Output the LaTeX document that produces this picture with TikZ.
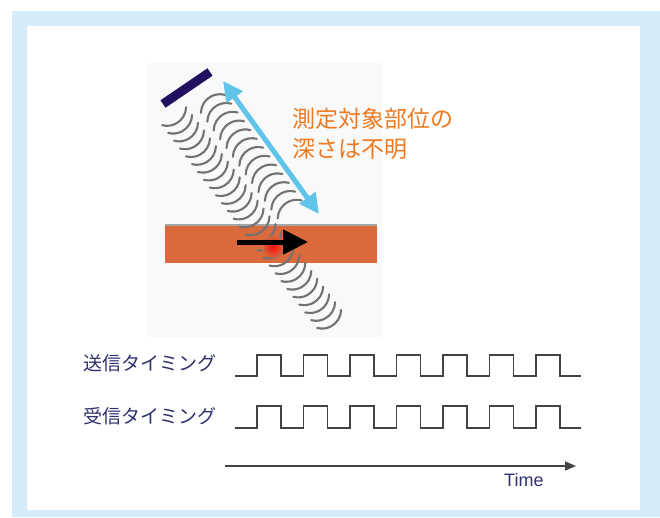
\documentclass[tikz,border=0pt]{standalone}
\usepackage{fontspec}
\setmainfont{Liberation Sans}
\newfontfamily\jpfont{Noto Sans CJK JP}
\usetikzlibrary{arrows.meta}

\definecolor{framebg}{RGB}{214,235,249}
\definecolor{panelbg}{RGB}{249,249,249}
\definecolor{probe}{RGB}{33,16,96}
\definecolor{depthcol}{RGB}{95,195,234}
\definecolor{layercol}{RGB}{218,105,60}
\definecolor{notecol}{RGB}{238,122,34}
\definecolor{labelcol}{RGB}{48,48,110}
\definecolor{signalcol}{RGB}{68,68,68}

\tikzset{
  ripple/.style={draw=black!55, line width=2.1pt, line cap=round},
  signal/.style={draw=signalcol, line width=1.4pt, line join=miter},
  timinglabel/.style={anchor=west, inner sep=0pt, text=labelcol,
    font=\jpfont\fontsize{19}{22}\selectfont},
  notelabel/.style={anchor=north west, inner sep=0pt, text=notecol, align=left,
    font=\jpfont\fontsize{23}{30}\selectfont},
}
% wavefronts drawn around the origin of the current scope:
% outgoing ones bulge away from the probe, returning ones bulge back towards it
\newcommand{\outfront}{%
  (-9.9,-13.2) ++(1:19) arc[start angle=1, end angle=105, radius=19]}
\newcommand{\backfront}{%
  (9.9,13.2) ++(-179:19) arc[start angle=-179, end angle=-75, radius=19]}

\begin{document}
\begin{tikzpicture}[x=1pt, y=-1pt]
\useasboundingbox (0,0) rectangle (660,517);

% frame
\fill[framebg] (12,11) rectangle (660,517);
\fill[white] (27,26) rectangle (640,510);

% sketch panel
\fill[panelbg] (147,63) rectangle (382,337);

% target layer
\fill[layercol] (165,226) rectangle (377,263);
\draw[gray!70, line width=1.4pt] (165,225) -- (377,225);

% outgoing wavefronts
\foreach \i in {0,...,26} {
  \draw[ripple, shift={({177+\i*5.96},{120+\i*7.8})}] \outfront;
}
% returning wavefronts
\foreach \i in {0,...,12} {
  \draw[ripple, shift={({210+\i*6.4},{100+\i*8.8})}] \backfront;
}

% reflection spot
\shade[inner color=red, outer color=layercol, opacity=0.85] (273,247) circle (11);

% probe
\coordinate (probeA) at (163,104);
\coordinate (probeB) at (210,72);
\draw[probe, line width=9pt] (probeA) -- (probeB);

% depth arrow
\coordinate (depthTop) at (223,81);
\coordinate (depthBot) at (319,214);
\draw[depthcol, line width=5pt,
  {Triangle[length=20pt,width=19pt]}-{Triangle[length=20pt,width=19pt]}]
  (depthTop) -- (depthBot);

% motion arrow
\coordinate (moveA) at (237,242);
\coordinate (moveB) at (308,242);
\draw[black, line width=5pt, -{Triangle[length=25pt,width=24pt]}] (moveA) -- (moveB);

% note
\node[notelabel] (note) at (292,108) {測定対象部位の\\深さは不明};

% timing rows
\node[timinglabel] (txlabel) at (83,363) {送信タイミング};
\node[timinglabel] (rxlabel) at (83,416) {受信タイミング};

\draw[signal] (235,376)
  foreach \k in {0,...,6} {
    -- ({257+46.5*\k},376) -- ({257+46.5*\k},355)
    -- ({281+46.5*\k},355) -- ({281+46.5*\k},376)
  } -- (581,376);
\draw[signal] (235,428)
  foreach \k in {0,...,6} {
    -- ({257+46.5*\k},428) -- ({257+46.5*\k},406)
    -- ({281+46.5*\k},406) -- ({281+46.5*\k},428)
  } -- (581,428);

% time axis
\coordinate (timeA) at (225,466);
\coordinate (timeB) at (576,466);
\draw[signalcol, line width=1.5pt, -{Triangle[length=11pt,width=9pt]}] (timeA) -- (timeB);
\node[anchor=base west, inner sep=0pt, text=labelcol, font=\fontsize{18}{21}\selectfont]
  (timelabel) at (504,486) {Time};
\end{tikzpicture}
\end{document}
